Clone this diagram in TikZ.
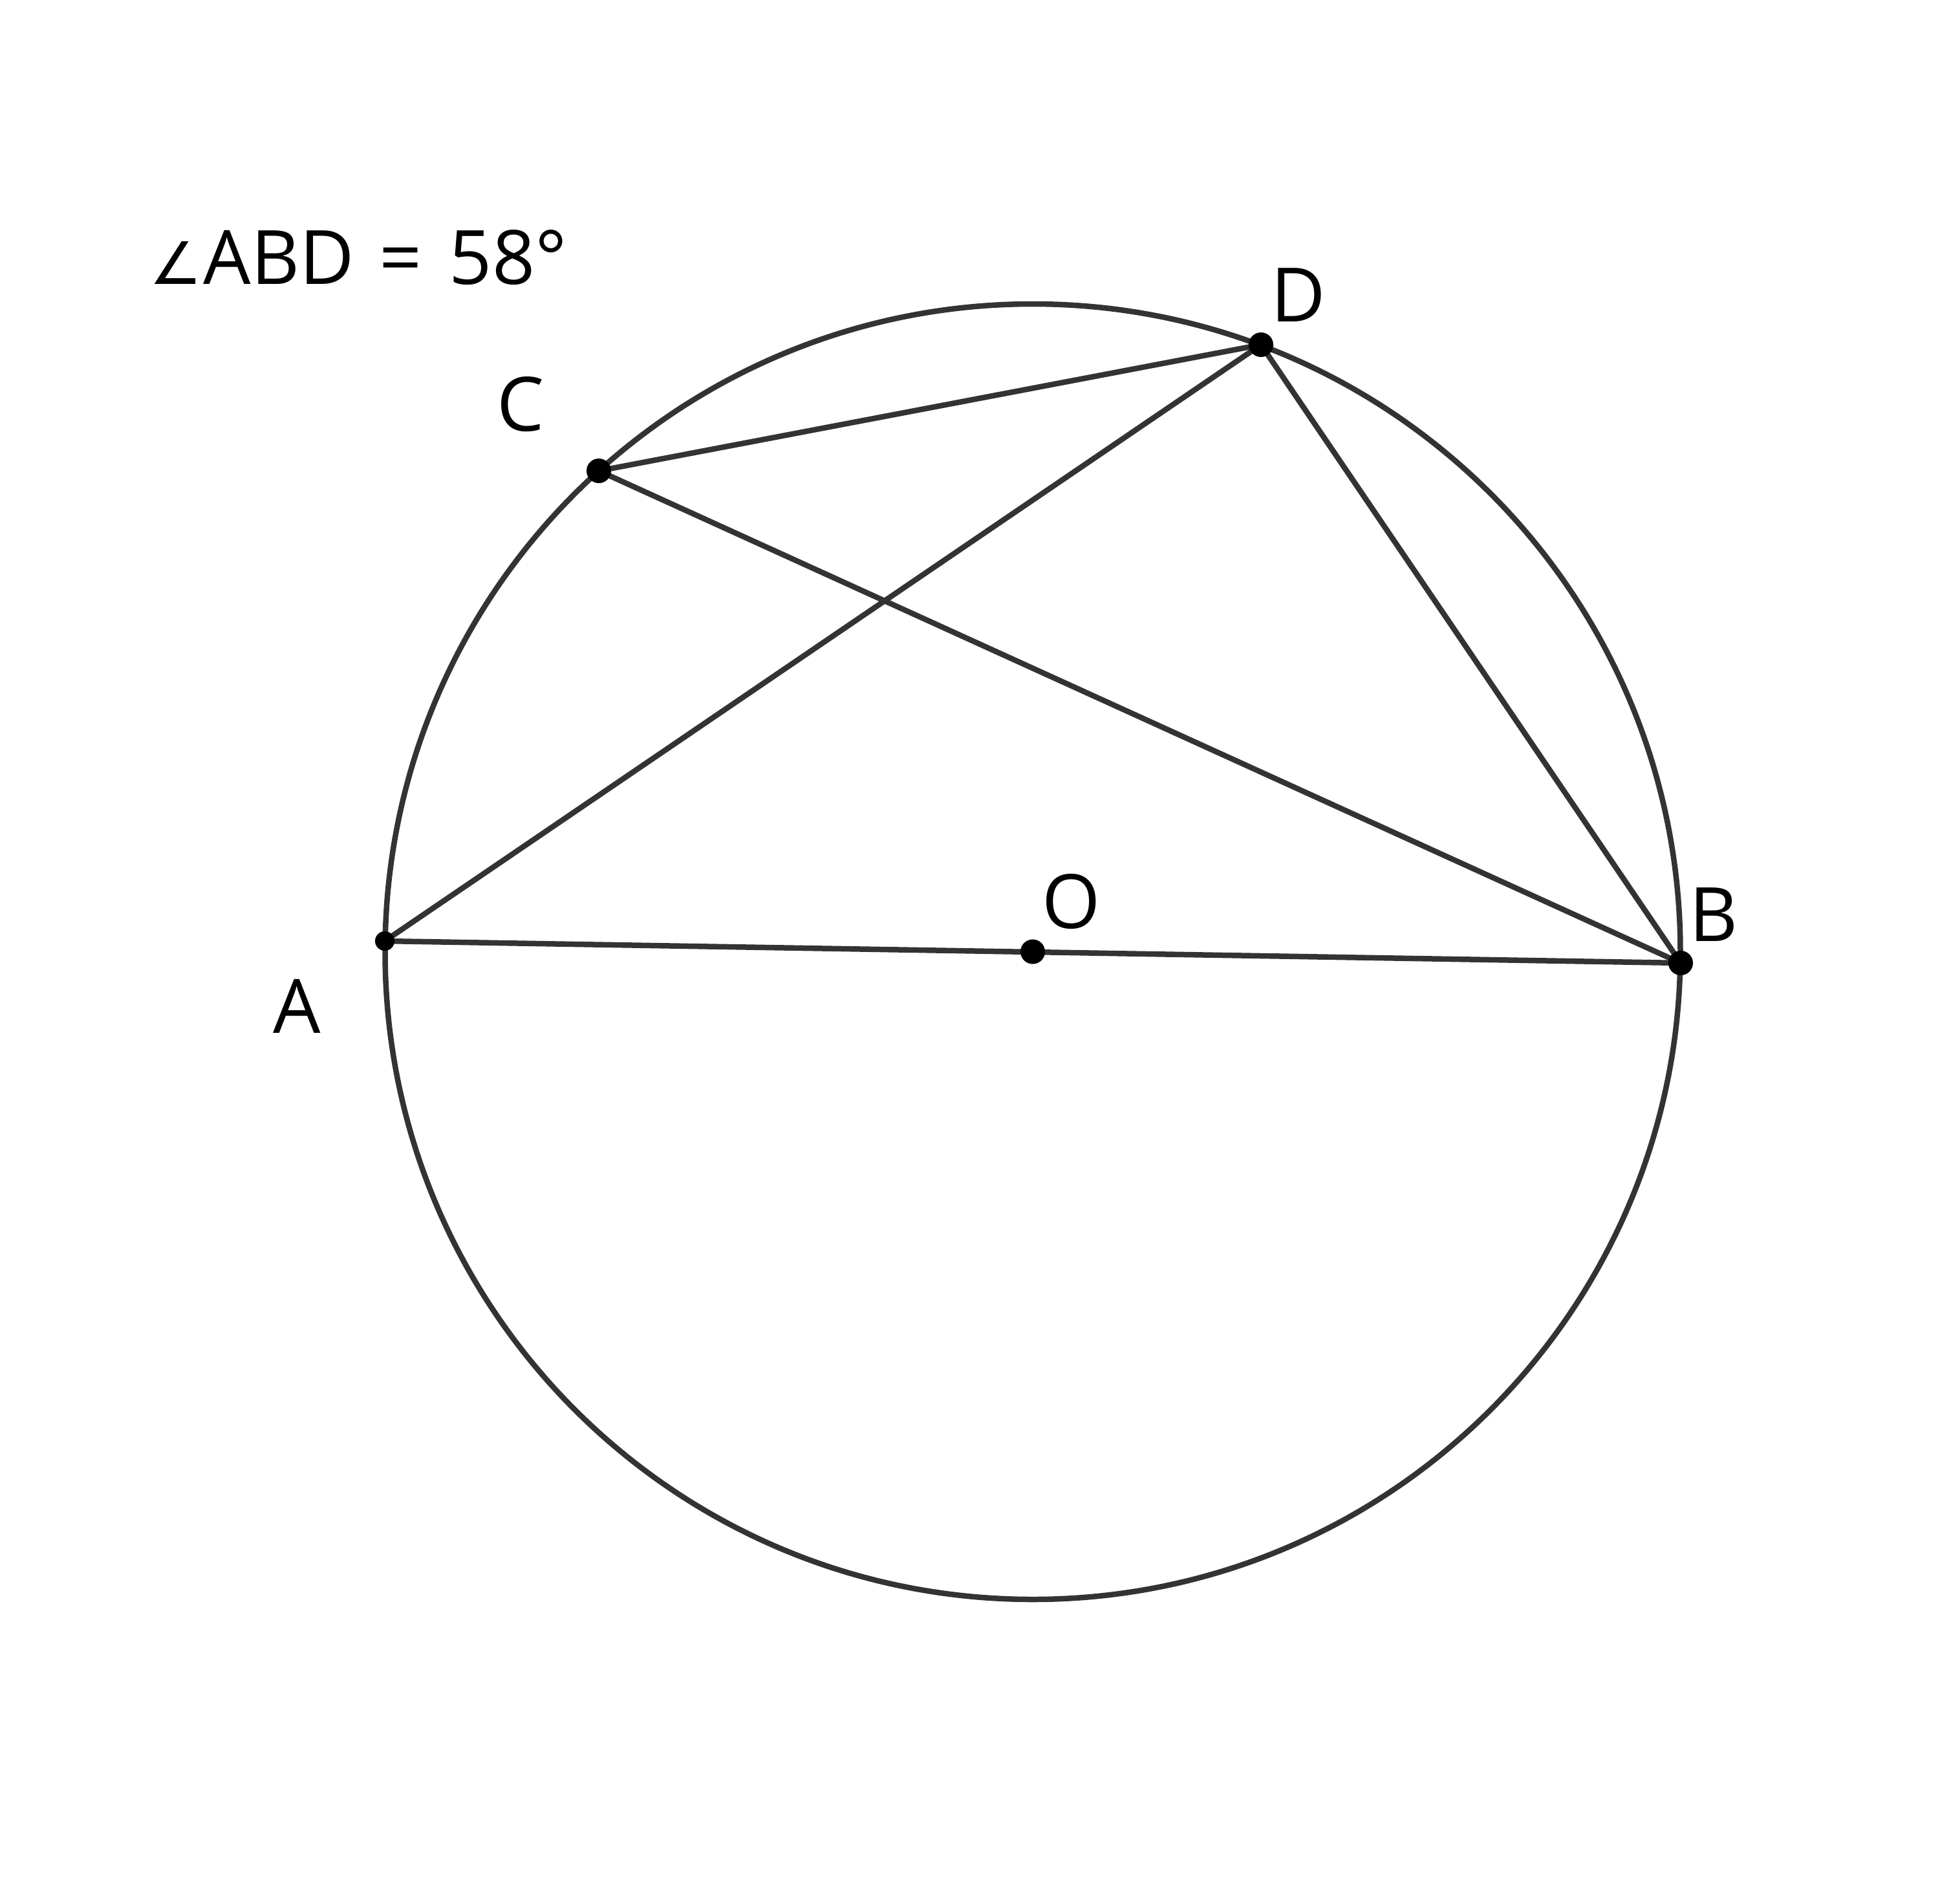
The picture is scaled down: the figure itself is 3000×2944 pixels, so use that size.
\documentclass[tikz,border=0pt]{standalone}
\usepackage{graphicx}
\usepackage{fontspec}
\setmainfont{Open Sans}
\newfontfamily\symfont{DejaVu Sans}
\begin{document}
\begin{tikzpicture}[x=0.1pt,y=-0.1pt,
  seg/.style={draw=black!80, line width=0.85pt},
  bigdot/.style={circle, fill=black, inner sep=0pt, minimum size=3.8pt},
  smalldot/.style={circle, fill=black, inner sep=0pt, minimum size=3.0pt},
  lbl/.style={font=\fontsize{11.6pt}{14pt}\selectfont, inner sep=0pt, anchor=base}]
\useasboundingbox (0,0) rectangle (3000,2944);
\coordinate (O) at (1597,1471.5);
\coordinate (A) at (595,1455);
\coordinate (B) at (2599,1489);
\coordinate (C) at (926,728);
\coordinate (D) at (1950,533);
\draw[seg] (O) circle [radius=1001.5];
\draw[seg] (A) -- (B);
\draw[seg] (A) -- (D);
\draw[seg] (C) -- (D);
\draw[seg] (C) -- (B);
\draw[seg] (D) -- (B);
\node[smalldot] (dA) at (A) {};
\node[bigdot] (dB) at (B) {};
\node[bigdot] (dC) at (C) {};
\node[bigdot] (dD) at (D) {};
\node[bigdot] (dO) at (O) {};
\node[lbl] (lA) at (459,1597) {A};
\node[lbl] (lB) at (2650,1455) {B};
\node[lbl] (lC) at (805,666) {C};
\node[lbl] (lD) at (2008,497) {D};
\node[lbl] (lO) at (1657,1435) {O};
\node[lbl, anchor=base west] (ang) at (228,439)
  {\hspace*{0.15pt}\makebox[0pt][l]{\scalebox{0.78}{\symfont ∠}}\hspace*{8.35pt}%
   \makebox[0pt][l]{ABD}\hspace*{27.15pt}%
   \makebox[0pt][l]{=}\hspace*{10.85pt}%
   58°};
\end{tikzpicture}
\end{document}
